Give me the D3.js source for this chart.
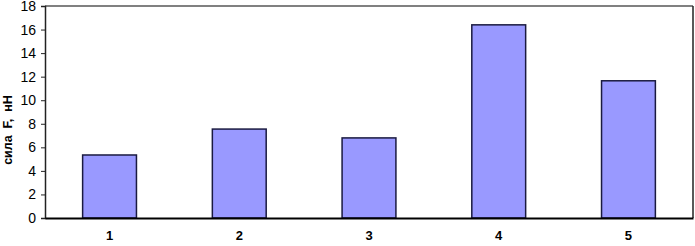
<!DOCTYPE html>
<html><head><meta charset="utf-8">
<script src="https://cdn.jsdelivr.net/npm/d3@7"></script>
<style>body{margin:0;background:#fff}svg{display:block}</style>
</head><body>
<svg id="c" width="695" height="246"></svg>
<script>
const categories = ["1","2","3","4","5"];
const values = [5.35, 7.55, 6.8, 16.4, 11.65];
const yTicks = [0,2,4,6,8,10,12,14,16,18];
const yTitle = "сила  F,  нН";

const svg = d3.select("#c");
const L = 45, R = 693, T = 6, B = 218;
const x = d3.scaleBand().domain(categories).range([L, R]).paddingInner(0.585).paddingOuter(0.29);
const y = d3.scaleLinear().domain([0, 18]).range([B, T]);

svg.append("line").attr("x1", L).attr("x2", R).attr("y1", T).attr("y2", T)
  .attr("stroke", "#808080").attr("stroke-width", 2);
svg.append("line").attr("x1", R).attr("x2", R).attr("y1", T).attr("y2", B)
  .attr("stroke", "#222").attr("stroke-width", 1.5);

svg.append("g").selectAll("rect").data(values).join("rect")
  .attr("x", (d, i) => x(categories[i]))
  .attr("y", d => y(d))
  .attr("width", x.bandwidth())
  .attr("height", d => B - y(d))
  .attr("fill", "#9999ff")
  .attr("stroke", "#1a1a40").attr("stroke-width", 1.5);

const ya = svg.append("g").attr("transform", `translate(${L},0)`)
  .call(d3.axisLeft(y).tickValues(yTicks).tickSize(4).tickPadding(5));
ya.select(".domain").attr("stroke", "#222").attr("stroke-width", 1.5);
ya.selectAll(".tick line").attr("stroke", "#222");
ya.selectAll("text").attr("font-family", "Arial, 'Liberation Sans', sans-serif")
  .attr("font-size", 14).attr("fill", "#000");

const xa = svg.append("g").attr("transform", `translate(0,${B})`)
  .call(d3.axisBottom(x).tickSize(0).tickPadding(13));
xa.select(".domain").attr("stroke", "#000").attr("stroke-width", 2);
xa.selectAll("text").attr("font-family", "Arial, 'Liberation Sans', sans-serif")
  .attr("font-size", 13).attr("font-weight", "bold").attr("fill", "#000");

svg.append("text").attr("transform", "translate(12,130) rotate(-90)")
  .attr("text-anchor", "middle")
  .attr("font-family", "Arial, 'Liberation Sans', sans-serif")
  .attr("font-size", 12.5).attr("font-weight", "bold").attr("fill", "#000")
  .attr("xml:space", "preserve").style("white-space", "pre")
  .text(yTitle);
</script>
</body></html>
